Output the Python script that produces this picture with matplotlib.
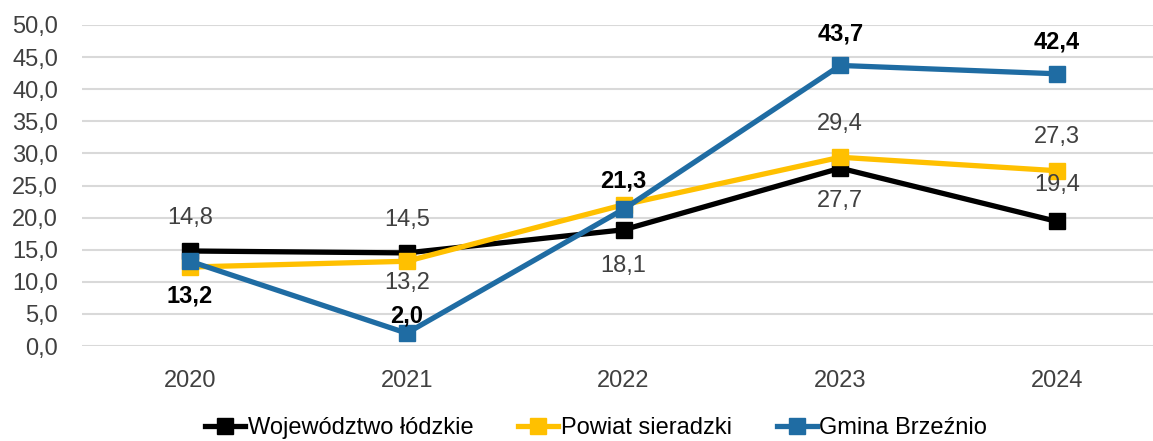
import matplotlib
matplotlib.use("Agg")
import matplotlib.pyplot as plt
from matplotlib.ticker import MultipleLocator, FuncFormatter

plt.rcParams['font.family'] = ['Liberation Sans', 'DejaVu Sans']

years = ["2020", "2021", "2022", "2023", "2024"]
wojewodztwo = [14.8, 14.5, 18.1, 27.7, 19.4]
powiat = [12.3, 13.2, 22.0, 29.4, 27.3]
gmina = [13.2, 2.0, 21.3, 43.7, 42.4]
series_names = ["Województwo łódzkie", "Powiat sieradzki", "Gmina Brzeźnio"]

# label vertical offsets in points (positive above, negative below, None hidden)
off_woj = [24, 24, -26, -24, 26]
off_pow = [None, -16, None, 24, 24]
off_gmi = [-25, 12, 20, 23, 23]

W, H = 1153, 441
fig = plt.figure(figsize=(W / 100, H / 100), dpi=100)
left = 81.6 / W
right = 1165.4 / W
bottom = (H - 346) / H
top = 1 - 25 / H
ax = fig.add_axes([left, bottom, right - left, top - bottom])

x = list(range(len(years)))
colors = ["#000000", "#FFC000", "#1F6CA3"]
styles = [
    (wojewodztwo, off_woj, "#404040", "normal"),
    (powiat, off_pow, "#404040", "normal"),
    (gmina, off_gmi, "#000000", "bold"),
]

for (vals, offs, lc, fw), col, name in zip(styles, colors, series_names):
    ax.plot(x, vals, color=col, lw=3.8, marker="s", ms=11, label=name,
            solid_joinstyle="miter", zorder=3)

for (vals, offs, lc, fw), col in zip(styles, colors):
    for xi, v, o in zip(x, vals, offs):
        if o is None:
            continue
        ax.annotate(f"{v:.1f}".replace(".", ","), (xi, v),
                    xytext=(0, o), textcoords="offset points",
                    ha="center", va="center", fontsize=17, color=lc,
                    fontweight=fw, zorder=5)

ax.set_xlim(-0.5, len(years) - 0.5)
ax.set_ylim(0, 50)
ax.yaxis.set_major_locator(MultipleLocator(5))
ax.yaxis.set_major_formatter(FuncFormatter(lambda v, p: f"{v:.1f}".replace(".", ",")))
ax.set_xticks(x)
ax.set_xticklabels(years)
ax.tick_params(axis="both", length=0, labelsize=17, colors="#404040")
ax.tick_params(axis="y", pad=17)
ax.tick_params(axis="x", pad=17)
ax.grid(axis="y", color="#D9D9D9", lw=1.5, zorder=0)
ax.set_axisbelow(True)
for s in ax.spines.values():
    s.set_visible(False)

fig.legend(loc="center", bbox_to_anchor=(0.517, 0.03), ncol=3, frameon=False,
           fontsize=17, handlelength=1.7, handletextpad=0.1, columnspacing=1.9,
           labelcolor="#000000")

fig.savefig("out.png", dpi=100)
